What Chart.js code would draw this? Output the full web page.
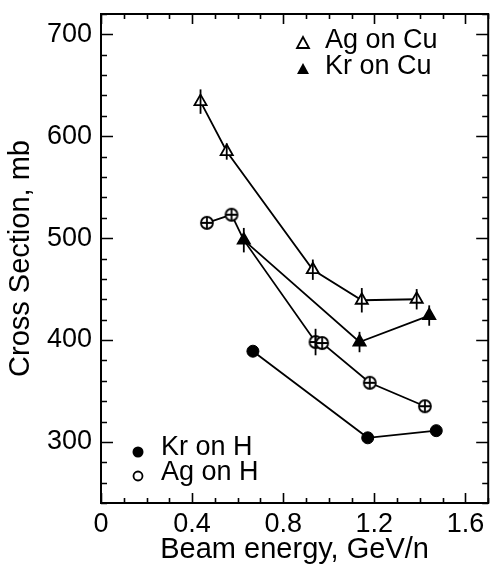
<!DOCTYPE html>
<html>
<head>
<meta charset="utf-8">
<script src="https://cdn.jsdelivr.net/npm/chart.js@4.4.1/dist/chart.umd.min.js"></script>
<style>
  html, body { margin: 0; padding: 0; background: #fff; }
  #wrap { width: 497px; height: 567px; }
</style>
</head>
<body>
<div id="wrap"><canvas id="chart" width="497" height="567"></canvas></div>
<script>
// Values: beam energy (GeV/n), cross section (mb), error (mb)
const agCuX = [0.437, 0.552, 0.930, 1.145, 1.386];
const agCuY = [634, 585, 469, 439, 440];
const agCuErr = [12, 8, 10, 12, 10];

const krCuX = [0.627, 1.135, 1.441];
const krCuY = [498, 398, 424];
const krCuErr = [12, 10, 10];

const agHX = [0.465, 0.573, 0.627, 0.942, 0.971, 1.180, 1.422];
const agHY = [515, 523, 498, 398, 397, 358, 335];
const agHErr = [0, 0, 0, 13, 0, 0, 0];

const krHX = [0.667, 1.171, 1.472];
const krHY = [389, 304, 311];

const xTicks = [0, 0.4, 0.8, 1.2, 1.6];
const yTicks = [300, 400, 500, 600, 700];

const FONT = '"Liberation Sans", Arial, Helvetica, sans-serif';
Chart.defaults.font.family = FONT;
Chart.defaults.color = '#000';

function pts(xs, ys) {
    return xs.map((x, i) => ({ x: x, y: ys[i] }));
}

// open circle with a cross through it
function circlePlus(r) {
    const c = document.createElement('canvas');
    const s = Math.ceil(r * 2 + 4);
    c.width = c.height = s;
    const g = c.getContext('2d');
    const m = s / 2;
    g.fillStyle = '#fff';
    g.strokeStyle = '#000';
    g.lineWidth = 1.8;
    g.beginPath();
    g.arc(m, m, r, 0, Math.PI * 2);
    g.fill();
    g.stroke();
    g.beginPath();
    g.moveTo(m - r, m); g.lineTo(m + r, m);
    g.moveTo(m, m - r); g.lineTo(m, m + r);
    g.stroke();
    return c;
}
const circlePlusImg = circlePlus(6);

// Box with inward ticks on all four sides
const frame = {
    id: 'frame',
    afterDatasetsDraw(chart) {
        const { ctx, chartArea: a, scales: { x, y } } = chart;
        ctx.save();
        ctx.strokeStyle = '#000';
        ctx.lineWidth = 2;
        ctx.strokeRect(a.left, a.top, a.right - a.left, a.bottom - a.top);
        ctx.lineWidth = 1.6;
        ctx.beginPath();
        for (let v = 0; v <= x.max + 1e-9; v += 0.1) {
            const px = Math.round(x.getPixelForValue(v)) + 0.5;
            const major = Math.abs(v / 0.4 - Math.round(v / 0.4)) < 1e-6;
            const len = major ? 10 : 5;
            ctx.moveTo(px, a.bottom); ctx.lineTo(px, a.bottom - len);
            ctx.moveTo(px, a.top); ctx.lineTo(px, a.top + len);
        }
        for (let v = y.min; v <= y.max; v += 20) {
            const py = Math.round(y.getPixelForValue(v)) + 0.5;
            const major = v % 100 === 0;
            const len = major ? 12 : 6;
            ctx.moveTo(a.left, py); ctx.lineTo(a.left + len, py);
            ctx.moveTo(a.right, py); ctx.lineTo(a.right - len, py);
        }
        ctx.stroke();
        ctx.restore();
    }
};

// Vertical error bars
const errorBars = {
    id: 'errorBars',
    afterDatasetsDraw(chart) {
        const { ctx, scales: { y } } = chart;
        ctx.save();
        ctx.strokeStyle = '#000';
        ctx.lineWidth = 1.8;
        chart.data.datasets.forEach((ds, i) => {
            if (!ds.errors) return;
            const meta = chart.getDatasetMeta(i);
            meta.data.forEach((p, j) => {
                const e = ds.errors[j];
                if (!e) return;
                const v = ds.data[j].y;
                ctx.beginPath();
                ctx.moveTo(p.x, y.getPixelForValue(v + e));
                ctx.lineTo(p.x, y.getPixelForValue(v - e));
                ctx.stroke();
            });
        });
        ctx.restore();
    }
};

// Two legend groups inside the plot
const legendBlocks = {
    id: 'legendBlocks',
    afterDraw(chart) {
        const { ctx } = chart;
        const ds = chart.data.datasets;
        const entries = [
            { label: ds[0].label, mark: 'openTri', mx: 303, my: 44, tx: 325, ty: 41 },
            { label: ds[1].label, mark: 'fillTri', mx: 303, my: 70, tx: 325, ty: 67 },
            { label: ds[3].label, mark: 'fillCirc', mx: 138, my: 452, tx: 161, ty: 448 },
            { label: ds[2].label, mark: 'openCirc', mx: 138, my: 476, tx: 161, ty: 473 }
        ];
        ctx.save();
        ctx.strokeStyle = '#000';
        ctx.fillStyle = '#000';
        ctx.lineWidth = 1.8;
        entries.forEach(e => {
            ctx.beginPath();
            if (e.mark === 'openTri' || e.mark === 'fillTri') {
                ctx.moveTo(e.mx, e.my - 7);
                ctx.lineTo(e.mx + 6, e.my + 4);
                ctx.lineTo(e.mx - 6, e.my + 4);
                ctx.closePath();
            } else {
                ctx.arc(e.mx, e.my, e.mark === 'fillCirc' ? 5.5 : 4.5, 0, Math.PI * 2);
            }
            if (e.mark.startsWith('fill')) ctx.fill(); else ctx.stroke();
            ctx.font = '27px ' + FONT;
            ctx.textBaseline = 'middle';
            ctx.textAlign = 'left';
            ctx.fillText(e.label, e.tx, e.ty);
        });
        ctx.restore();
    }
};

const lineCommon = {
    showLine: true,
    borderColor: '#000',
    borderWidth: 1.8,
    pointBorderColor: '#000',
    pointBorderWidth: 1.8,
    tension: 0
};

new Chart(document.getElementById('chart'), {
    type: 'scatter',
    data: {
        datasets: [
            Object.assign({}, lineCommon, {
                label: 'Ag on Cu',
                data: pts(agCuX, agCuY),
                errors: agCuErr,
                pointStyle: 'triangle',
                pointRadius: 7,
                pointBackgroundColor: '#fff'
            }),
            Object.assign({}, lineCommon, {
                label: 'Kr on Cu',
                data: pts(krCuX, krCuY),
                errors: krCuErr,
                pointStyle: 'triangle',
                pointRadius: 7,
                pointBackgroundColor: '#000'
            }),
            Object.assign({}, lineCommon, {
                label: 'Ag on H',
                data: pts(agHX, agHY),
                errors: agHErr,
                pointStyle: circlePlusImg,
                // third point sits under a Kr on Cu triangle
                pointRadius: ctx => ctx.dataIndex === 2 ? 0 : 6,
                order: 1
            }),
            Object.assign({}, lineCommon, {
                label: 'Kr on H',
                data: pts(krHX, krHY),
                pointStyle: 'circle',
                pointRadius: 6,
                pointBorderWidth: 1,
                pointBackgroundColor: '#000'
            })
        ]
    },
    options: {
        responsive: false,
        animation: false,
        events: [],
        layout: { padding: { top: 14, right: 1, left: 0, bottom: 0 } },
        plugins: { legend: { display: false }, tooltip: { enabled: false } },
        scales: {
            x: {
                type: 'linear',
                min: 0,
                max: 1.7,
                afterBuildTicks: s => { s.ticks = xTicks.map(v => ({ value: v })); },
                afterFit: s => { s.height = 64; s.paddingLeft = 0; s.paddingRight = 0; },
                grid: { display: false, drawTicks: false },
                border: { display: false },
                ticks: {
                    font: { size: 27 },
                    color: '#000',
                    padding: 5,
                    maxRotation: 0,
                    callback: v => String(v)
                },
                title: {
                    display: true,
                    text: 'Beam energy, GeV/n',
                    font: { size: 29 },
                    color: '#000',
                    padding: 0
                }
            },
            y: {
                min: 240,
                max: 720,
                afterBuildTicks: s => { s.ticks = yTicks.map(v => ({ value: v })); },
                afterFit: s => { s.width = 101; s.paddingTop = 0; s.paddingBottom = 0; },
                grid: { display: false, drawTicks: false },
                border: { display: false },
                ticks: {
                    font: { size: 27 },
                    color: '#000',
                    padding: 9,
                    callback: v => String(v)
                },
                title: {
                    display: true,
                    text: 'Cross Section, mb',
                    font: { size: 29 },
                    color: '#000',
                    padding: { top: 4, bottom: 0 }
                }
            }
        }
    },
    plugins: [frame, errorBars, legendBlocks]
});
</script>
</body>
</html>
